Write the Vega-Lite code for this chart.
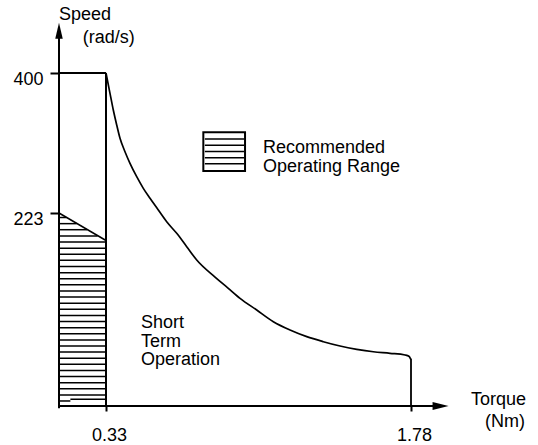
{
  "$schema": "https://vega.github.io/schema/vega-lite/v6.json",
  "width": 479,
  "height": 406,
  "autosize": {"type": "none"},
  "padding": {"left": 59, "top": 0, "right": 0, "bottom": 39},
  "background": "white",
  "config": {
    "view": {"stroke": null},
    "font": "Liberation Sans",
    "text": {"font": "Liberation Sans", "fontSize": 18, "color": "black"}
  },
  "datasets": {
    "curve": [
      {"torque": 0.33, "speed": 400},
      {"torque": 0.349, "speed": 374.3},
      {"torque": 0.3647, "speed": 353.2},
      {"torque": 0.3809, "speed": 334.3},
      {"torque": 0.3966, "speed": 317.4},
      {"torque": 0.4203, "speed": 300.5},
      {"torque": 0.4441, "speed": 285.8},
      {"torque": 0.476, "speed": 268.9},
      {"torque": 0.5074, "speed": 254.2},
      {"torque": 0.5392, "speed": 241.6},
      {"torque": 0.5787, "speed": 226.8},
      {"torque": 0.6186, "speed": 212.9},
      {"torque": 0.6662, "speed": 199.5},
      {"torque": 0.7137, "speed": 184.1},
      {"torque": 0.7613, "speed": 168.7},
      {"torque": 0.8483, "speed": 149.0},
      {"torque": 0.9101, "speed": 136.3},
      {"torque": 0.9672, "speed": 124.4},
      {"torque": 1.0466, "speed": 110.9},
      {"torque": 1.1255, "speed": 97.4},
      {"torque": 1.2049, "speed": 87.8},
      {"torque": 1.2844, "speed": 80.1},
      {"torque": 1.3633, "speed": 74.3},
      {"torque": 1.4427, "speed": 69.3},
      {"torque": 1.5221, "speed": 65.5},
      {"torque": 1.6010, "speed": 62.7},
      {"torque": 1.6804, "speed": 60.9},
      {"torque": 1.7518, "speed": 58.9},
      {"torque": 1.7700, "speed": 57.4},
      {"torque": 1.7790, "speed": 54.0}
    ],
    "hatch": [
      {"torque": 0, "torque2": 0.0506, "speed": 217.8},
      {"torque": 0, "torque2": 0.1236, "speed": 210.7},
      {"torque": 0, "torque2": 0.1966, "speed": 203.7},
      {"torque": 0, "torque2": 0.271, "speed": 196.5},
      {"torque": 0, "torque2": 0.33, "speed": 189.5},
      {"torque": 0, "torque2": 0.33, "speed": 182.4},
      {"torque": 0, "torque2": 0.33, "speed": 175.4},
      {"torque": 0, "torque2": 0.33, "speed": 168.3},
      {"torque": 0, "torque2": 0.33, "speed": 161.2},
      {"torque": 0, "torque2": 0.33, "speed": 154.1},
      {"torque": 0, "torque2": 0.33, "speed": 147.1},
      {"torque": 0, "torque2": 0.33, "speed": 140.0},
      {"torque": 0, "torque2": 0.33, "speed": 133.0},
      {"torque": 0, "torque2": 0.33, "speed": 125.8},
      {"torque": 0, "torque2": 0.33, "speed": 118.8},
      {"torque": 0, "torque2": 0.33, "speed": 111.7},
      {"torque": 0, "torque2": 0.33, "speed": 104.7},
      {"torque": 0, "torque2": 0.33, "speed": 97.6},
      {"torque": 0, "torque2": 0.33, "speed": 90.5},
      {"torque": 0, "torque2": 0.33, "speed": 83.4},
      {"torque": 0, "torque2": 0.33, "speed": 76.4},
      {"torque": 0, "torque2": 0.33, "speed": 69.3},
      {"torque": 0, "torque2": 0.33, "speed": 62.3},
      {"torque": 0, "torque2": 0.33, "speed": 55.1},
      {"torque": 0, "torque2": 0.33, "speed": 48.1},
      {"torque": 0, "torque2": 0.33, "speed": 41.0},
      {"torque": 0, "torque2": 0.33, "speed": 34.0},
      {"torque": 0, "torque2": 0.33, "speed": 26.9},
      {"torque": 0, "torque2": 0.33, "speed": 19.8},
      {"torque": 0, "torque2": 0.33, "speed": 12.7},
      {"torque": 0.08, "torque2": 0.33, "speed": 7.7},
      {"torque": 0, "torque2": 0.08, "speed": 5.8},
      {"torque": 0.8, "torque2": 0.986, "speed": 316.6},
      {"torque": 0.8, "torque2": 0.986, "speed": 308.7},
      {"torque": 0.8, "torque2": 0.986, "speed": 300.9},
      {"torque": 0.8, "torque2": 0.986, "speed": 293.0},
      {"torque": 0.8, "torque2": 0.986, "speed": 285.2}
    ],
    "segments": [
      {"part": "slant", "torque": 0, "torque2": 0.33, "speed": 223, "speed2": 191.2, "w": 1.5},
      {"part": "top", "torque": 0, "torque2": 0.33, "speed": 400, "speed2": 400, "w": 1.8},
      {"part": "limit", "torque": 0.33, "torque2": 0.33, "speed": 400, "speed2": 0, "w": 2},
      {"part": "end", "torque": 1.78, "torque2": 1.78, "speed": 54.5, "speed2": 0, "w": 1.8},
      {"part": "x axis", "torque": 0, "torque2": 1.92, "speed": 0, "speed2": 0, "w": 2},
      {"part": "y axis", "torque": 0, "torque2": 0, "speed": -2.5, "speed2": 452, "w": 2}
    ],
    "box": [
      {"torque": 0.7927, "torque2": 0.991, "speed": 325.0, "speed2": 276.1}
    ],
    "arrows": [
      {"axis": "y", "torque": 0, "speed": 453.5},
      {"axis": "x", "torque": 1.9206, "speed": 0}
    ],
    "labels": [
      {"text": "Speed", "torque": 0, "speed": 467.0},
      {"text": "(rad/s)", "torque": 0.1664, "speed": 437.9},
      {"text": "Torque", "torque": 2.0656, "speed": 1.2},
      {"text": "(Nm)", "torque": 2.1322, "speed": -23.7},
      {"text": "Recommended", "torque": 1.0766, "speed": 298.5},
      {"text": "Operating Range", "torque": 1.0766, "speed": 275.2},
      {"text": "Short", "torque": 0.4964, "speed": 90.5},
      {"text": "Term", "torque": 0.4964, "speed": 68.5},
      {"text": "Operation", "torque": 0.4964, "speed": 47.4}
    ]
  },
  "layer": [
    {
      "data": {"name": "hatch"},
      "mark": {"type": "rule", "color": "black", "strokeWidth": 1.5},
      "encoding": {
        "x": {
          "field": "torque", "type": "quantitative",
          "scale": {"type": "linear", "domain": [0, 0.33, 1.78], "range": [0, 47, 352], "nice": false, "zero": false},
          "axis": {
            "values": [0.33, 1.78], "format": ".2f", "title": null, "domain": false, "grid": false,
            "ticks": true, "tickColor": "black", "tickWidth": 2, "tickSize": 5,
            "labelFont": "Liberation Sans", "labelFontSize": 18, "labelColor": "black",
            "labelBaseline": "alphabetic", "labelPadding": 29.5, "labelOffset": 3,
            "labelFlush": false, "labelOverlap": false
          }
        },
        "x2": {"field": "torque2"},
        "y": {
          "field": "speed", "type": "quantitative",
          "scale": {"type": "linear", "domain": [0, 223, 400], "range": [406, 213, 73], "nice": false, "zero": false},
          "axis": {
            "values": [223, 400], "format": "d", "title": null, "domain": false, "grid": false,
            "ticks": true, "tickColor": "black", "tickWidth": 2, "tickSize": 9,
            "labelFont": "Liberation Sans", "labelFontSize": 18, "labelColor": "black",
            "labelBaseline": "middle", "labelPadding": 7, "labelOffset": 6.5,
            "labelFlush": false, "labelOverlap": false
          }
        }
      }
    },
    {
      "data": {"name": "segments"},
      "mark": {"type": "rule", "color": "black"},
      "encoding": {
        "x": {"field": "torque", "type": "quantitative"},
        "x2": {"field": "torque2"},
        "y": {"field": "speed", "type": "quantitative"},
        "y2": {"field": "speed2"},
        "strokeWidth": {"field": "w", "type": "quantitative", "scale": null}
      }
    },
    {
      "data": {"name": "curve"},
      "mark": {"type": "line", "color": "black", "strokeWidth": 1.7, "interpolate": "monotone"},
      "encoding": {
        "x": {"field": "torque", "type": "quantitative"},
        "y": {"field": "speed", "type": "quantitative"}
      }
    },
    {
      "data": {"name": "box"},
      "mark": {"type": "rect", "fill": null, "stroke": "black", "strokeWidth": 2},
      "encoding": {
        "x": {"field": "torque", "type": "quantitative"},
        "x2": {"field": "torque2"},
        "y": {"field": "speed", "type": "quantitative"},
        "y2": {"field": "speed2"}
      }
    },
    {
      "data": {"name": "arrows"},
      "mark": {"type": "point", "filled": true, "color": "black", "opacity": 1, "strokeWidth": 0},
      "encoding": {
        "x": {"field": "torque", "type": "quantitative"},
        "y": {"field": "speed", "type": "quantitative"},
        "shape": {
          "field": "axis", "type": "nominal", "legend": null,
          "scale": {"domain": ["y", "x"], "range": ["M0,-1L0.47,1L-0.47,1Z", "M1,0L-1,0.51L-1,-0.51Z"]}
        },
        "size": {"value": 256}
      }
    },
    {
      "data": {"name": "labels"},
      "mark": {"type": "text", "align": "left", "baseline": "alphabetic", "font": "Liberation Sans", "fontSize": 18, "color": "black"},
      "encoding": {
        "x": {"field": "torque", "type": "quantitative"},
        "y": {"field": "speed", "type": "quantitative"},
        "text": {"field": "text", "type": "nominal"}
      }
    }
  ]
}
